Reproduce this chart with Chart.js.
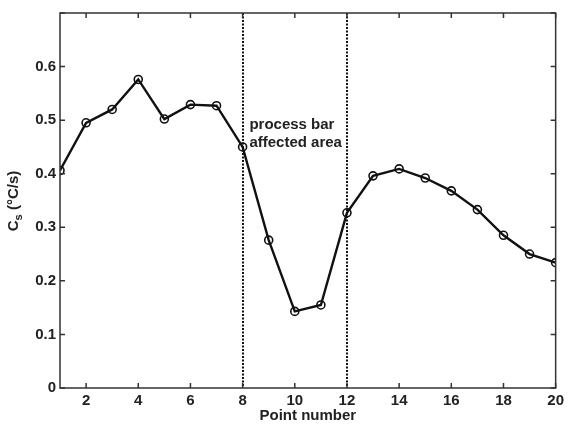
<!DOCTYPE html>
<html>
<head>
<meta charset="utf-8">
<script src="https://cdn.jsdelivr.net/npm/chart.js@4/dist/chart.umd.min.js"></script>
<style>
  html, body { margin: 0; padding: 0; background: #fff; }
  #wrap { width: 568px; height: 425px; }
</style>
</head>
<body>
<div id="wrap"><canvas id="cs-chart" width="568" height="425"></canvas></div>
<script>
// cooling rate per measurement point
const pointNumbers = [1, 2, 3, 4, 5, 6, 7, 8, 9, 10, 11, 12, 13, 14, 15, 16, 17, 18, 19, 20];
const coolingRate = [0.406, 0.495, 0.520, 0.576, 0.502, 0.529, 0.527, 0.450, 0.276, 0.143,
                     0.155, 0.327, 0.396, 0.409, 0.392, 0.368, 0.333, 0.285, 0.250, 0.234];
const xTicks = [2, 4, 6, 8, 10, 12, 14, 16, 18, 20];
const yTicks = [0, 0.1, 0.2, 0.3, 0.4, 0.5, 0.6, 0.7];
const areaBounds = [8, 12];              // process bar affected area
const areaLabel = ["process bar", "affected area"];
const areaLabelPos = { x: 8.26, y: 0.491 };

const FAMILY = "'Liberation Sans', Arial, sans-serif";
const FONT = "bold 15px " + FAMILY;
const INK = "#222";

const frame = {
  id: "frame",
  beforeDatasetsDraw(chart) {
    const { ctx, chartArea: a, scales: { x } } = chart;
    ctx.save();
    // dotted bounds of the affected area
    ctx.strokeStyle = "#111";
    ctx.lineWidth = 2;
    ctx.setLineDash([2, 1.5]);
    areaBounds.forEach(v => {
      const px = Math.round(x.getPixelForValue(v));
      ctx.beginPath();
      ctx.moveTo(px, a.top);
      ctx.lineTo(px, a.bottom);
      ctx.stroke();
    });
    ctx.restore();
  },
  afterDraw(chart) {
    const { ctx, chartArea: a, scales: { x, y } } = chart;
    ctx.save();
    // box and inward ticks
    ctx.strokeStyle = "#333";
    ctx.lineWidth = 1.5;
    ctx.strokeRect(a.left, a.top, a.right - a.left, a.bottom - a.top);
    ctx.beginPath();
    xTicks.forEach(v => {
      const px = x.getPixelForValue(v);
      ctx.moveTo(px, a.bottom); ctx.lineTo(px, a.bottom - 5);
      ctx.moveTo(px, a.top); ctx.lineTo(px, a.top + 5);
    });
    yTicks.forEach(v => {
      const py = y.getPixelForValue(v);
      ctx.moveTo(a.left, py); ctx.lineTo(a.left + 5, py);
      ctx.moveTo(a.right, py); ctx.lineTo(a.right - 5, py);
    });
    ctx.stroke();

    ctx.fillStyle = INK;
    ctx.font = FONT;
    // area annotation
    ctx.textAlign = "left";
    ctx.textBaseline = "middle";
    const lx = x.getPixelForValue(areaLabelPos.x);
    const ly = y.getPixelForValue(areaLabelPos.y);
    areaLabel.forEach((t, i) => ctx.fillText(t, lx, ly + i * 18));

    // x title
    ctx.textAlign = "center";
    ctx.fillText("Point number", (a.left + a.right) / 2, 416);

    // y title with subscript
    ctx.translate(14, 201);
    ctx.rotate(-Math.PI / 2);
    const parts = [["C", FONT, 0], ["s", "bold 11px " + FAMILY, 5], [" (\u00B0C/s)", FONT, 0]];
    let w = 0;
    parts.forEach(p => { ctx.font = p[1]; w += ctx.measureText(p[0]).width; });
    let cx = -w / 2;
    ctx.textAlign = "left";
    parts.forEach(p => {
      ctx.font = p[1];
      ctx.fillText(p[0], cx, p[2]);
      cx += ctx.measureText(p[0]).width;
    });
    ctx.restore();
  }
};

const tickFont = { family: FAMILY, size: 15, weight: "bold" };

new Chart(document.getElementById("cs-chart"), {
  type: "line",
  data: {
    labels: pointNumbers,
    datasets: [{
      data: pointNumbers.map((n, i) => ({ x: n, y: coolingRate[i] })),
      borderColor: "#111",
      borderWidth: 2.4,
      pointRadius: 4,
      pointBorderWidth: 1.6,
      pointBorderColor: "#111",
      pointBackgroundColor: "rgba(0,0,0,0)",
      tension: 0
    }]
  },
  options: {
    responsive: false,
    animation: false,
    layout: { padding: { top: 12, right: 9, left: 0, bottom: 0 } },
    plugins: { legend: { display: false }, tooltip: { enabled: false } },
    scales: {
      x: {
        type: "linear",
        min: 1,
        max: 20,
        afterBuildTicks: s => { s.ticks = xTicks.map(v => ({ value: v })); },
        afterFit: s => { s.height = 37; },
        grid: { display: false, drawTicks: false },
        border: { display: false },
        ticks: { font: tickFont, color: INK, padding: 4, maxRotation: 0 }
      },
      y: {
        min: 0,
        max: 0.7,
        afterBuildTicks: s => { s.ticks = yTicks.map(v => ({ value: v })); },
        afterFit: s => { s.width = 60; },
        grid: { display: false, drawTicks: false },
        border: { display: false },
        ticks: {
          font: tickFont,
          color: INK,
          padding: 4,
          callback: v => v === 0 ? "0" : (v >= 0.7 ? "" : v.toFixed(1))
        }
      }
    }
  },
  plugins: [frame]
});
</script>
</body>
</html>
